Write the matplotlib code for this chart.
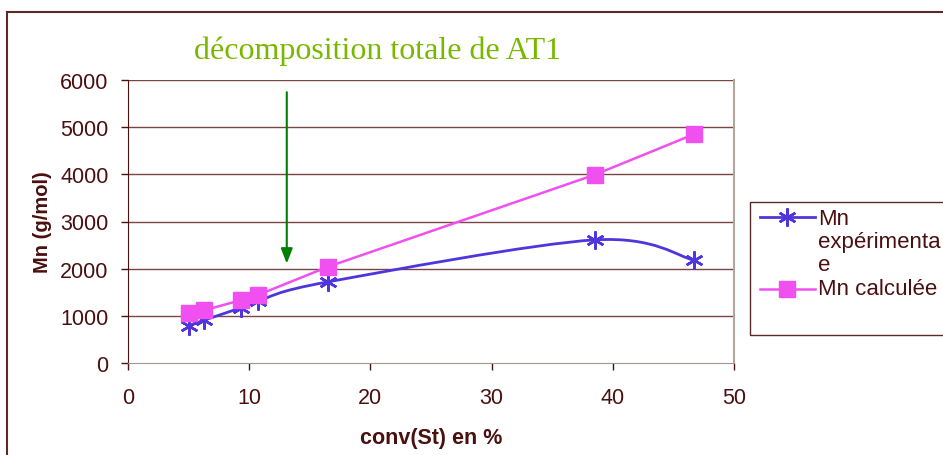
import matplotlib
matplotlib.use("Agg")
import matplotlib.pyplot as plt
from matplotlib.path import Path
from matplotlib.patches import PathPatch, Rectangle
from matplotlib.lines import Line2D
import numpy as np

conv = [5.0, 6.3, 9.3, 10.7, 16.5, 38.5, 46.7]
mn_exp = [790, 910, 1170, 1310, 1720, 2610, 2180]
mn_calc = [1060, 1120, 1330, 1440, 2040, 3990, 4850]
x_ticks = [0, 10, 20, 30, 40, 50]
y_ticks = [0, 1000, 2000, 3000, 4000, 5000, 6000]
title = "décomposition totale de AT1"
label_exp = "Mn\nexpérimenta\ne"
label_calc = "Mn calculée"

BROWN = "#4a1010"
BLUE = "#4f35dc"
PINK = "#f050f0"
GREEN_T = "#7ab800"

W, H = 943, 456
fig = plt.figure(figsize=(W / 100, H / 100), dpi=100)
plt.rcParams['font.family'] = ['Liberation Sans', 'DejaVu Sans']

ax = fig.add_axes([128 / W, 1 - 364 / H, (734 - 128) / W, (364 - 81) / H])
ax.set_xlim(0, 50)
ax.set_ylim(0, 6000)
ax.set_xticks(x_ticks)
ax.set_yticks(y_ticks)
ax.tick_params(axis='both', colors=BROWN, labelsize=15.5, direction='out', length=5, width=1)
ax.tick_params(axis='x', pad=12)
ax.tick_params(axis='y', pad=9)
for lab in ax.get_xticklabels() + ax.get_yticklabels():
    lab.set_color(BROWN)
for g in y_ticks[1:]:
    ax.axhline(g, color="#7a4545", lw=1, zorder=0)
ax.spines['left'].set_color(BROWN)
ax.spines['bottom'].set_color("#a09890")
ax.spines['right'].set_color("#b0a8a0")
ax.spines['top'].set_visible(False)
ax.spines['right'].set_linewidth(1.5)

ax.set_ylabel("Mn (g/mol)", fontsize=14.5, fontweight='bold', color=BROWN, labelpad=6)
ax.set_xlabel("conv(St) en %", fontsize=15.5, fontweight='bold', color=BROWN, labelpad=14)

# smooth curve (Excel-like Bezier) for experimental series
def smooth_path(xs, ys, t=1 / 6):
    pts = np.column_stack([xs, ys]).astype(float)
    n = len(pts)
    verts = [pts[0]]
    codes = [Path.MOVETO]
    for i in range(n - 1):
        p0 = pts[i - 1] if i > 0 else pts[i]
        p1 = pts[i]
        p2 = pts[i + 1]
        p3 = pts[i + 2] if i + 2 < n else pts[i + 1]
        c1 = p1 + (p2 - p0) * t
        c2 = p2 - (p3 - p1) * t
        verts += [c1, c2, p2]
        codes += [Path.CURVE4] * 3
    return Path(verts, codes)

ax.add_patch(PathPatch(smooth_path(conv, mn_exp), fill=False, edgecolor=BLUE, lw=2, zorder=3))
ax.plot(conv, mn_exp, linestyle='none', marker=(6, 2, 0), markersize=13,
        markeredgecolor=BLUE, markeredgewidth=1.8, zorder=4, clip_on=False)
ax.plot(conv, mn_calc, color=PINK, lw=1.8, marker='s', markersize=11,
        markerfacecolor=PINK, markeredgecolor=PINK, zorder=5, clip_on=False)

# arrow
ax.annotate("", xy=(13.1, 2050), xytext=(13.1, 5800),
            arrowprops=dict(arrowstyle="-|>,head_length=0.9,head_width=0.35",
                            color="#008000", lw=1.5), zorder=6)

fig.text(377 / W, 1 - 51 / H, title, family='Liberation Serif', fontsize=23,
         color=GREEN_T, ha='center', va='center')

# outer chart frame
fig.add_artist(Line2D([7 / W, 7 / W], [0, 1 - 13 / H], color="#5a2a2a", lw=1.5))
fig.add_artist(Line2D([7 / W, 1], [1 - 13 / H, 1 - 13 / H], color="#5a2a2a", lw=1.5))

# legend box
fig.add_artist(Rectangle((750 / W, 1 - 336 / H), 300 / W, (336 - 203) / H,
                         transform=fig.transFigure, fill=False, edgecolor="#5a2a2a", lw=1))
fig.add_artist(Line2D([760 / W, 815 / W], [1 - 218 / H] * 2, color=BLUE, lw=2))
fig.add_artist(Line2D([787 / W], [1 - 218 / H], marker=(6, 2, 0), markersize=13,
                      markeredgecolor=BLUE, markeredgewidth=1.8, linestyle='none'))
fig.add_artist(Line2D([760 / W, 815 / W], [1 - 290 / H] * 2, color=PINK, lw=1.8))
fig.add_artist(Line2D([787 / W], [1 - 290 / H], marker='s', markersize=11,
                      markerfacecolor=PINK, markeredgecolor=PINK, linestyle='none'))
fig.text(818 / W, 1 - 209 / H, label_exp, fontsize=16, color=BROWN, va='top', ha='left',
         linespacing=1.12)
fig.text(818 / W, 1 - 290 / H, label_calc, fontsize=16, color=BROWN, va='center', ha='left')

fig.savefig("out.png", dpi=100)
